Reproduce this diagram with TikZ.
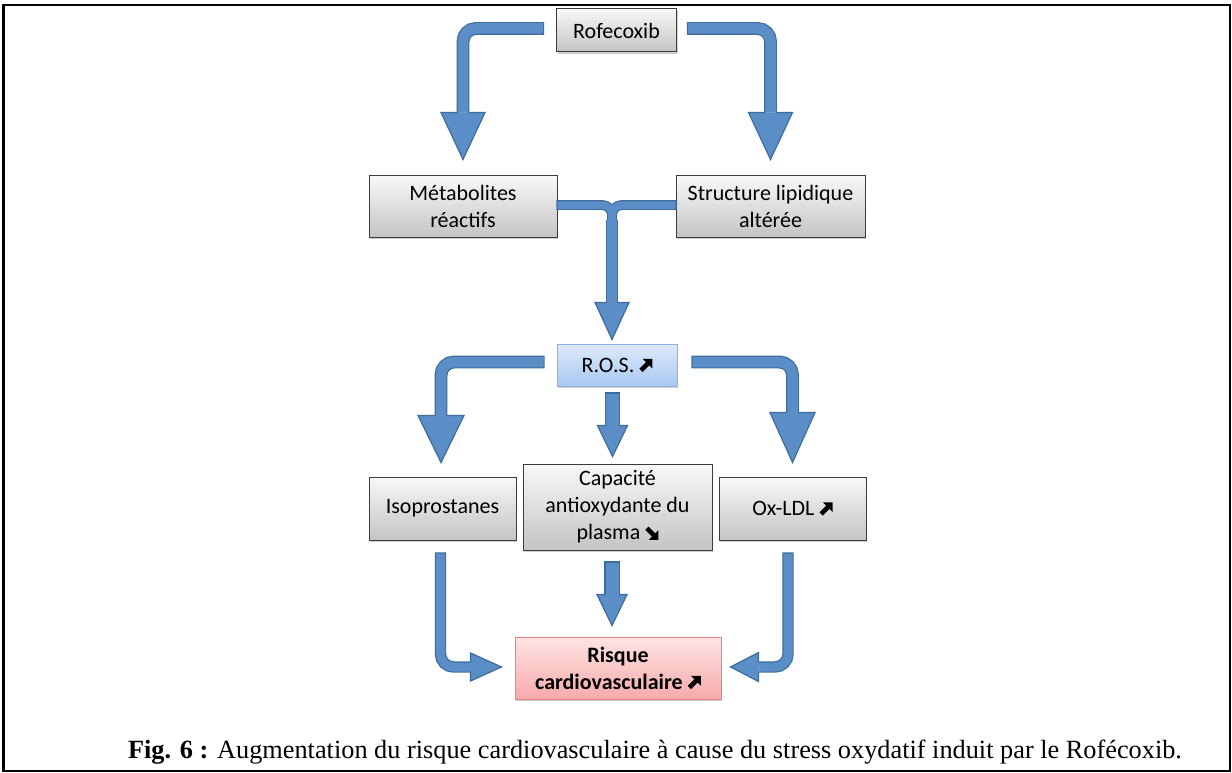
\documentclass[tikz,border=0pt]{standalone}
\usepackage{fontspec}
\setmainfont{Carlito}
\newfontfamily\capfont{Liberation Serif}
\usetikzlibrary{calc,shadows}
\definecolor{arrF}{RGB}{91,142,198}
\definecolor{arrB}{RGB}{62,108,156}
\definecolor{boxB}{RGB}{60,60,60}
\definecolor{gTop}{RGB}{248,248,248}
\definecolor{gBot}{RGB}{196,196,196}
\definecolor{bTop}{RGB}{222,234,251}
\definecolor{bBot}{RGB}{168,200,242}
\definecolor{bB}{RGB}{140,178,226}
\definecolor{rTop}{RGB}{255,228,228}
\definecolor{rBot}{RGB}{246,170,170}
\definecolor{rB}{RGB}{226,130,130}
\newsavebox\nebox
\newsavebox\sebox
\newcommand{\upar}{\usebox\nebox}
\newcommand{\dnar}{\usebox\sebox}
\newcommand{\shaft}[2]{%
  \draw[arrB, line width=#1pt+2.4pt, rounded corners=13pt, shorten <=-1.2pt] #2;
  \draw[arrF, line width=#1pt, rounded corners=13pt] #2;}
\newcommand{\hd}[4]{%
  \fill[arrF] ($#1+(-#3,-#2)$) -- #1 -- ($#1+(#3,-#2)$) -- cycle;
  \draw[arrB, line width=1.2pt, line join=miter] ($#1+(#4,-#2)$) -- ($#1+(#3,-#2)$) -- #1 -- ($#1+(-#3,-#2)$) -- ($#1+(-#4,-#2)$);}
\newcommand{\hr}[4]{%
  \fill[arrF] ($#1+(-#2,-#3)$) -- #1 -- ($#1+(-#2,#3)$) -- cycle;
  \draw[arrB, line width=1.2pt, line join=miter] ($#1+(-#2,-#4)$) -- ($#1+(-#2,-#3)$) -- #1 -- ($#1+(-#2,#3)$) -- ($#1+(-#2,#4)$);}
\newcommand{\hl}[4]{%
  \fill[arrF] ($#1+(#2,-#3)$) -- #1 -- ($#1+(#2,#3)$) -- cycle;
  \draw[arrB, line width=1.2pt, line join=miter] ($#1+(#2,-#4)$) -- ($#1+(#2,-#3)$) -- #1 -- ($#1+(#2,#3)$) -- ($#1+(#2,#4)$);}
\tikzset{
  basebox/.style={align=center, inner sep=0pt, line width=1pt,
    font=\fontsize{22}{27}\selectfont,
    drop shadow={shadow xshift=1.2pt, shadow yshift=-1.8pt, opacity=0.3, fill=black!60}},
  gbox/.style={basebox, draw=boxB, top color=gTop, bottom color=gBot},
  bbox/.style={basebox, draw=bB, top color=bTop, bottom color=bBot},
  rbox/.style={basebox, draw=rB, top color=rTop, bottom color=rBot,
    font=\fontsize{22}{27}\selectfont\bfseries},
}
\begin{document}
\sbox\nebox{\begin{pgfpicture}
  \pgfsetfillcolor{black}
  \pgfpathmoveto{\pgfpoint{3.252pt}{0pt}}
  \pgfpathlineto{\pgfpoint{9.970pt}{6.717pt}}
  \pgfpathlineto{\pgfpoint{13.152pt}{3.535pt}}
  \pgfpathlineto{\pgfpoint{13.152pt}{13.152pt}}
  \pgfpathlineto{\pgfpoint{3.535pt}{13.152pt}}
  \pgfpathlineto{\pgfpoint{6.717pt}{9.970pt}}
  \pgfpathlineto{\pgfpoint{0pt}{3.252pt}}
  \pgfpathclose
  \pgfusepath{fill}
\end{pgfpicture}}
\sbox\sebox{\begin{pgfpicture}
  \pgfsetfillcolor{black}
  \pgfpathmoveto{\pgfpoint{3.252pt}{13.152pt}}
  \pgfpathlineto{\pgfpoint{9.970pt}{6.435pt}}
  \pgfpathlineto{\pgfpoint{13.152pt}{9.617pt}}
  \pgfpathlineto{\pgfpoint{13.152pt}{0pt}}
  \pgfpathlineto{\pgfpoint{3.535pt}{0pt}}
  \pgfpathlineto{\pgfpoint{6.717pt}{3.182pt}}
  \pgfpathlineto{\pgfpoint{0pt}{9.900pt}}
  \pgfpathclose
  \pgfusepath{fill}
\end{pgfpicture}}
\begin{tikzpicture}[x=1pt, y=-1pt]
\useasboundingbox (0,0) rectangle (1232,773);
\fill[white] (0,0) rectangle (1232,773);
\draw[line width=2.5pt] (3.5,5) rectangle (1230,771);

\node[gbox, minimum width=120pt, minimum height=43pt] (rof) at (616.5,30.5) {Rofecoxib};
\node[gbox, minimum width=188pt, minimum height=61pt] (met) at (463,206.5) {Métabolites\\réactifs};
\node[gbox, minimum width=189pt, minimum height=61pt] (str) at (770.5,206.5) {Structure lipidique\\altérée};
\node[bbox, minimum width=120pt, minimum height=42pt] (ros) at (617,365) {R.O.S. \upar};
\node[gbox, minimum width=147pt, minimum height=63pt] (iso) at (442.5,508.5) {Isoprostanes};
\node[gbox, minimum width=189pt, minimum height=86pt] (cap) at (617.5,507) {Capacité\\antioxydante du\\plasma \dnar};
\node[gbox, minimum width=147pt, minimum height=63pt] (ox) at (792.5,508.5) {Ox-LDL \upar};
\node[rbox, minimum width=206pt, minimum height=62pt] (risk) at (618,668) {Risque\\cardiovasculaire \upar};

% Rofecoxib -> Metabolites / Structure
\coordinate (t1) at ($(met.north)+(0,-16)$);
\shaft{10.5}{($(rof.west)+(-13,-2)$) -| ($(t1)+(0,-47)$)}
\hd{(t1)}{47}{22}{5.25}
\coordinate (t2) at ($(str.north)+(0,-16)$);
\shaft{10.5}{($(rof.east)+(11,-2)$) -| ($(t2)+(0,-47)$)}
\hd{(t2)}{47}{22}{5.25}

% Metabolites + Structure -> ROS
\coordinate (t3) at ($(ros.north)+(-5,-4)$);
\draw[arrB, line width=7.5pt+2.4pt, rounded corners=10pt, shorten <=-1.2pt] ($(met.east)+(0,-1.5)$) -| ($(t3)+(0,-110)$);
\draw[arrB, line width=7.5pt+2.4pt, rounded corners=10pt, shorten <=-1.2pt] ($(str.west)+(0,-1.5)$) -| ($(t3)+(0,-110)$);
\draw[arrB, line width=10.5pt+2.4pt] ($(t3)+(0,-120)$) -- ($(t3)+(0,-37)$);
\draw[arrF, line width=7.5pt, rounded corners=10pt] ($(met.east)+(0,-1.5)$) -| ($(t3)+(0,-110)$);
\draw[arrF, line width=7.5pt, rounded corners=10pt] ($(str.west)+(0,-1.5)$) -| ($(t3)+(0,-110)$);
\draw[arrF, line width=10.5pt] ($(t3)+(0,-120)$) -- ($(t3)+(0,-37)$);
\hd{(t3)}{37}{17}{5.25}

% ROS -> three
\coordinate (t4) at ($(iso.north)+(-1.5,-14)$);
\shaft{10.5}{($(ros.west)+(-13,-3)$) -| ($(t4)+(0,-47)$)}
\hd{(t4)}{47}{23}{5.25}
\coordinate (t5) at ($(cap.north)+(-5,-7)$);
\shaft{13}{($(ros.south -| t5)+(0,7)$) -- ($(t5)+(0,-31)$)}
\hd{(t5)}{31}{15}{6.5}
\coordinate (t6) at ($(ox.north)+(0,-14)$);
\shaft{10.5}{($(ros.east)+(15,-3)$) -| ($(t6)+(0,-50)$)}
\hd{(t6)}{50}{22.5}{5.25}

% three -> Risque
\coordinate (t7) at ($(risk.west)+(-13,-1)$);
\shaft{9}{($(iso.south)+(-2,13)$) |- ($(t7)+(-31,0)$)}
\hr{(t7)}{31}{14}{4.5}
\coordinate (t8) at ($(risk.east)+(9,-1)$);
\shaft{9}{($(ox.south)+(-4.5,13)$) |- ($(t8)+(28,0)$)}
\hl{(t8)}{28}{14.5}{4.5}
\coordinate (t9) at ($(risk.north)+(-6,-11)$);
\shaft{13}{($(cap.south -| t9)+(0,12)$) -- ($(t9)+(0,-31)$)}
\hd{(t9)}{31}{15}{6.5}

\node[font=\capfont\fontsize{26.3}{30}\selectfont, anchor=base, inner sep=0pt] (figcap) at (655,758)
  {\textbf{Fig. 6 :} Augmentation du risque cardiovasculaire à cause du stress oxydatif induit par le Rofécoxib.};
\end{tikzpicture}
\end{document}
